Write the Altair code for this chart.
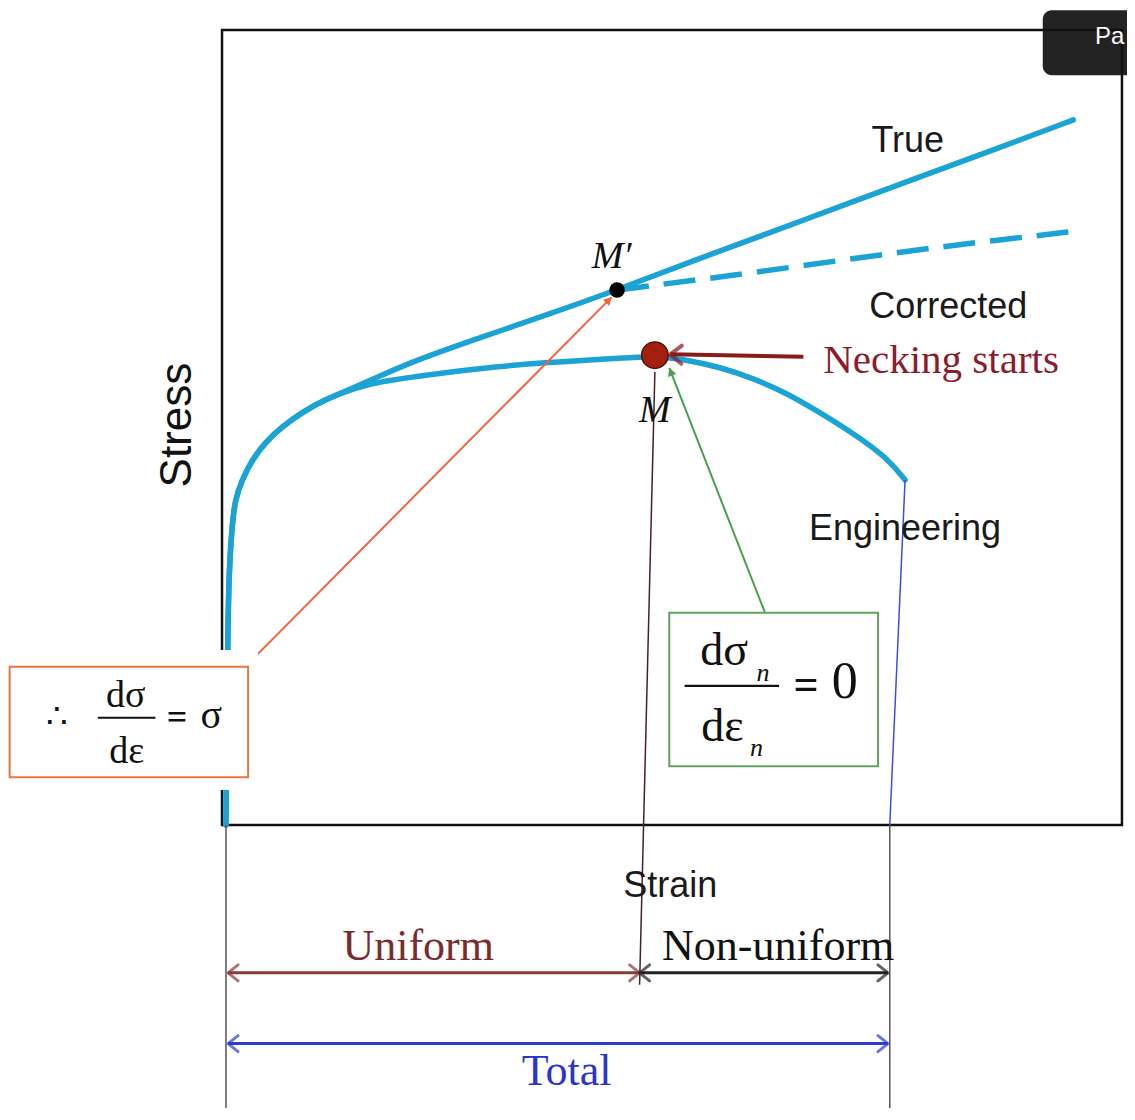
import altair as alt
import pandas as pd

# ---------------- data (strain / stress in box units 0..100) ----------------
eng_strain = [0.44, 0.56, 0.72, 1.11, 1.44, 2.22, 3.33, 4.78, 6.67, 8.89, 11.4, 14.8, 17.8, 21.4, 28.9, 36.2,
              44.2, 48.1, 51.7, 55.3, 59.0, 62.8, 66.4, 70.1, 73.9, 75.9]
eng_stress = [0.0, 15.7, 31.2, 37.5, 40.9, 43.4, 45.9, 48.1, 50.1, 51.9, 53.5, 55.0, 55.8, 56.4, 57.5, 58.2,
              58.7, 59.0, 58.5, 57.6, 56.2, 54.3, 51.9, 49.3, 46.2, 43.4]

true_strain = [0.44, 0.56, 0.72, 1.11, 1.44, 2.22, 3.33, 4.78, 6.67, 8.89, 11.4, 14.2, 17.8, 21.4, 28.9, 36.2,
               43.9, 53.1, 64.2, 75.3, 86.4, 94.6]
true_stress = [0.0, 15.7, 31.2, 37.5, 40.9, 43.4, 45.9, 48.1, 50.1, 51.9, 53.5, 54.8, 56.6, 58.4, 61.4, 64.2,
               67.3, 71.3, 75.9, 80.6, 85.2, 88.7]

corr_strain = [43.9, 58.7, 75.3, 86.4, 94.9]
corr_stress = [67.3, 69.4, 72.1, 73.6, 74.7]

# key points
point_name = ["M'", "M"]
point_strain = [43.9, 48.1]
point_stress = [67.3, 59.1]

# sans labels
sans_text = ["True", "Corrected", "Engineering", "Strain"]
sans_x = [76.2, 80.7, 75.9, 49.8]
sans_y = [84.7, 63.8, 35.8, -9.1]

# serif labels
serif_text = ["Necking starts", "Uniform", "Non-uniform", "Total"]
serif_x = [79.9, 21.8, 61.8, 38.3]
serif_y = [56.9, -17.0, -17.0, -32.7]
serif_color = ["#8E1B2B", "#7A2C2C", "#111111", "#2B35C8"]
serif_size = [41, 44, 44, 44]

# italic labels
ital_text = ["M\u2032", "M", "n", "n"]
ital_x = [43.3, 48.1, 60.1, 59.4]
ital_y = [70.1, 50.7, 18.1, 8.7]
ital_size = [38, 38, 26, 26]

# formula pieces
form_text = ["\u2234", "d\u03c3", "d\u03b5", "\u03c3", "d\u03c3", "d\u03b5", "0"]
form_x = [-18.3, -10.7, -10.6, -1.2, 55.8, 55.6, 69.2]
form_y = [12.2, 14.8, 7.8, 12.2, 20.1, 10.6, 16.0]
form_size = [34, 38, 38, 40, 46, 46, 52]
eq_x = [-5.0, 64.9]
eq_y = [12.1, 15.8]
eq_size = [36, 44]

# ---------------- scales ----------------
xs = alt.Scale(domain=[-23.78, 100.56], nice=False, zero=False)
ys = alt.Scale(domain=[-35.6, 102.77], nice=False, zero=False)
CYAN = "#1BA3D6"
SERIF = "Liberation Serif, Times New Roman, serif"
SANS = "Liberation Sans, Arial, sans-serif"


def X(f="x"):
    return alt.X(f"{f}:Q", scale=xs, axis=None)


def Y(f="y"):
    return alt.Y(f"{f}:Q", scale=ys, axis=None)


layers = []

# top-right dark overlay box (screenshot artefact)
box_df = pd.DataFrame({"x": [91.2], "x2": [104.0], "y": [102.5], "y2": [94.3]})
layers.append(alt.Chart(box_df).mark_rect(fill="#232323", cornerRadius=9, clip=True).encode(
    x=X(), x2="x2:Q", y=Y(), y2="y2:Q"))

# frame
frame_df = pd.DataFrame({"x": [0.0], "x2": [100.0], "y": [0.0], "y2": [100.0]})
layers.append(alt.Chart(frame_df).mark_rect(fillOpacity=0, stroke="#111111", strokeWidth=2.5).encode(
    x=X(), x2="x2:Q", y=Y(), y2="y2:Q"))

# curves
curve_rows = []
for i, (s, v) in enumerate(zip(eng_strain, eng_stress)):
    curve_rows.append({"x": s, "y": v, "series": "Engineering", "i": i})
for i, (s, v) in enumerate(zip(true_strain, true_stress)):
    curve_rows.append({"x": s, "y": v, "series": "True", "i": i})
curve_df = pd.DataFrame(curve_rows)
layers.append(alt.Chart(curve_df).mark_line(color=CYAN, strokeWidth=5.5, interpolate="basis",
                                            strokeCap="round", strokeJoin="round").encode(
    x=X(), y=Y(), detail="series:N", order="i:Q"))
corr_df = pd.DataFrame({"x": corr_strain, "y": corr_stress})
layers.append(alt.Chart(corr_df).mark_line(color=CYAN, strokeWidth=5.5, strokeDash=[32, 15],
                                           interpolate="basis").encode(x=X(), y=Y()))

# rules (guides, arrows)
rule_df = pd.DataFrame({
    "x":  [0.44, 74.2, 75.9, 48.1, 0.67, 46.4, 0.67, 64.6, 3.1, 60.3, -13.8, 51.4],
    "y":  [0.0, 0.0, 43.4, 57.0, -18.6, -18.6, -27.5, 58.9, 20.5, 26.8, 13.5, 17.5],
    "x2": [0.44, 74.2, 74.2, 46.4, 46.4, 74.0, 74.0, 49.8, 43.3, 49.7, -7.4, 61.9],
    "y2": [-35.6, -35.6, 0.0, -20.1, -18.6, -18.6, -27.5, 59.2, 66.4, 57.5, 13.5, 17.5],
    "c":  ["#555555", "#555555", "#3B4FE0", "#4A1F28", "#8B3A3A", "#222222", "#2B3FD6",
           "#8B1A1A", "#F0643F", "#4AA04A", "#111111", "#111111"],
    "w":  [1.5, 1.5, 1.5, 1.5, 3, 3, 3, 4, 2, 2, 2, 2.2],
})
layers.append(alt.Chart(rule_df).mark_rule().encode(
    x=X(), y=Y(), x2="x2:Q", y2="y2:Q",
    color=alt.Color("c:N", scale=None), strokeWidth=alt.StrokeWidth("w:Q", scale=None)))

# open chevron heads
CHEV = "M -0.8 1 L 0 0 L 0.8 1"
head_df = pd.DataFrame({
    "x": [0.67, 46.4, 46.4, 74.0, 0.67, 74.0, 49.8],
    "y": [-18.6, -18.6, -18.6, -18.6, -27.5, -27.5, 59.2],
    "a": [270, 90, 270, 90, 270, 90, 271.7],
    "c": ["#8B3A3A", "#8B3A3A", "#222222", "#222222", "#2B3FD6", "#2B3FD6", "#8B1A1A"],
    "s": [400, 400, 400, 400, 400, 400, 520],
    "w": [3, 3, 3, 3, 3, 3, 4],
    "shape": [CHEV] * 7,
})
layers.append(alt.Chart(head_df).mark_point(filled=False, strokeCap="round", strokeJoin="round").encode(
    x=X(), y=Y(), angle=alt.Angle("a:Q", scale=None), color=alt.Color("c:N", scale=None),
    size=alt.Size("s:Q", scale=None), strokeWidth=alt.StrokeWidth("w:Q", scale=None),
    shape=alt.Shape("shape:N", scale=None)))

# filled small arrow heads
TRI = "M -0.55 1 L 0 0 L 0.55 1 Z"
tri_df = pd.DataFrame({
    "x": [43.3, 49.7], "y": [66.4, 57.5], "a": [44.8, 338.5],
    "c": ["#F0643F", "#4AA04A"], "s": [256, 256], "shape": [TRI, TRI]})
layers.append(alt.Chart(tri_df).mark_point(filled=True, opacity=1).encode(
    x=X(), y=Y(), angle=alt.Angle("a:Q", scale=None), color=alt.Color("c:N", scale=None),
    size=alt.Size("s:Q", scale=None), shape=alt.Shape("shape:N", scale=None)))

# points M' and M
pt_df = pd.DataFrame({"x": point_strain, "y": point_stress, "name": point_name})
layers.append(alt.Chart(pt_df[pt_df.name == "M'"]).mark_point(filled=True, color="#000000", size=240, opacity=1).encode(
    x=X(), y=Y()))
layers.append(alt.Chart(pt_df[pt_df.name == "M"]).mark_point(filled=True, fill="#A3200F", stroke="#5A0E05",
                                                              strokeWidth=1.5, size=700, opacity=1).encode(
    x=X(), y=Y()))

# formula boxes
wbg_df = pd.DataFrame({"x": [-23.78], "x2": [4.0], "y": [22.0], "y2": [4.4]})
layers.append(alt.Chart(wbg_df).mark_rect(fill="white").encode(x=X(), x2="x2:Q", y=Y(), y2="y2:Q"))
fbox_df = pd.DataFrame({"x": [-23.6, 49.7], "x2": [2.9, 72.9], "y": [19.9, 26.7], "y2": [6.0, 7.4],
                        "c": ["#E4793F", "#5FA35F"]})
layers.append(alt.Chart(fbox_df).mark_rect(fill="white", strokeWidth=2).encode(
    x=X(), x2="x2:Q", y=Y(), y2="y2:Q", stroke=alt.Stroke("c:N", scale=None)))
# fraction bars drawn again on top of the boxes
bar_df = rule_df.iloc[10:12]
layers.append(alt.Chart(bar_df).mark_rule().encode(
    x=X(), y=Y(), x2="x2:Q", y2="y2:Q",
    color=alt.Color("c:N", scale=None), strokeWidth=alt.StrokeWidth("w:Q", scale=None)))

# texts
sans_df = pd.DataFrame({"x": sans_x, "y": sans_y, "t": sans_text})
layers.append(alt.Chart(sans_df).mark_text(font=SANS, fontSize=36, color="#1A1A1A", align="center",
                                           baseline="alphabetic").encode(x=X(), y=Y(), text="t:N"))

stress_df = pd.DataFrame({"x": [-4.9], "y": [50.3], "t": ["Stress"]})
layers.append(alt.Chart(stress_df).mark_text(font=SANS, fontSize=44, color="#111111", align="center",
                                             baseline="middle", angle=270).encode(x=X(), y=Y(), text="t:N"))

serif_df = pd.DataFrame({"x": serif_x, "y": serif_y, "t": serif_text, "c": serif_color, "s": serif_size})
layers.append(alt.Chart(serif_df).mark_text(font=SERIF, align="center", baseline="alphabetic").encode(
    x=X(), y=Y(), text="t:N", color=alt.Color("c:N", scale=None), size=alt.Size("s:Q", scale=None)))

ital_df = pd.DataFrame({"x": ital_x, "y": ital_y, "t": ital_text, "s": ital_size})
layers.append(alt.Chart(ital_df).mark_text(font=SERIF, fontStyle="italic", color="#111111", align="center",
                                           baseline="alphabetic").encode(
    x=X(), y=Y(), text="t:N", size=alt.Size("s:Q", scale=None)))

form_df = pd.DataFrame({"x": form_x, "y": form_y, "t": form_text, "s": form_size})
layers.append(alt.Chart(form_df).mark_text(font=SERIF, color="#111111", align="center",
                                           baseline="alphabetic").encode(
    x=X(), y=Y(), text="t:N", size=alt.Size("s:Q", scale=None)))

eq_df = pd.DataFrame({"x": eq_x, "y": eq_y, "t": ["=", "="], "s": eq_size})
layers.append(alt.Chart(eq_df).mark_text(font=SERIF, fontWeight="bold", color="#111111", align="center",
                                         baseline="alphabetic").encode(
    x=X(), y=Y(), text="t:N", size=alt.Size("s:Q", scale=None)))

pa_df = pd.DataFrame({"x": [97.0], "y": [99.1], "t": ["Pa"]})
layers.append(alt.Chart(pa_df).mark_text(font=SANS, fontSize=24, color="white", align="left",
                                         baseline="middle").encode(x=X(), y=Y(), text="t:N"))

chart = alt.layer(*layers).properties(
    width=1119, height=1100, padding=0, autosize="none", background="white"
).configure_view(stroke=None)

chart.save("out.html", embed_options={"renderer": "svg", "actions": False})
